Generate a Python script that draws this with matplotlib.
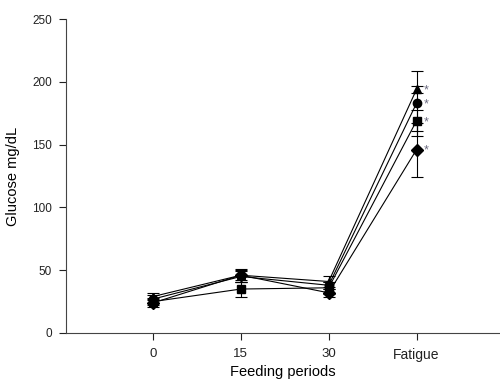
import matplotlib.pyplot as plt

plt.rcParams['font.family'] = ['Liberation Sans', 'DejaVu Sans']

periods = ['0', '15', '30', 'Fatigue']

triangle = [29, 46, 41, 194]
triangle_err = [3, 5, 4, 3]
circle = [27, 45, 38, 183]
circle_err = [3, 4, 3, 26]
square = [25, 35, 36, 169]
square_err = [3, 6, 5, 8.5]
diamond = [24, 46, 32, 146]
diamond_err = [3, 4, 3, 21.5]

series = [
    (triangle, triangle_err, '^'),
    (circle, circle_err, 'o'),
    (square, square_err, 's'),
    (diamond, diamond_err, 'D'),
]

fig = plt.figure(figsize=(5, 3.81), dpi=100)
ax = fig.add_axes([0.132, 0.126, 0.868, 0.824])

x = list(range(len(periods)))
for vals, errs, mk in series:
    ax.errorbar(x, vals, yerr=errs, color='black', marker=mk, markersize=6,
                linewidth=0.8, elinewidth=0.8, capsize=4, capthick=0.8)
    # significance marker at fatigue
    ax.text(3.11, vals[-1] - 1, '*', color='#6a6a80', fontsize=9,
            ha='center', va='center')

ax.set_xlim(-0.99, 3.95)
ax.set_ylim(0, 250)
ax.set_xticks(x)
ax.set_xticklabels(periods)
ax.set_yticks(range(0, 251, 50))
ax.tick_params(direction='out', length=5, width=0.8, labelsize=8.5, colors='#222222')
ax.tick_params(axis='x', pad=6, labelsize=9.5)
ax.tick_params(axis='y', pad=5)
ax.get_xticklabels()[-1].set_fontsize(10)
ax.spines['top'].set_visible(False)
ax.spines['right'].set_visible(False)
for s in ['left', 'bottom']:
    ax.spines[s].set_linewidth(0.8)
    ax.spines[s].set_color('#444444')

ax.set_xlabel('Feeding periods', fontsize=10.5, labelpad=2)
ax.set_ylabel('Glucose mg/dL', fontsize=10.5, labelpad=9)

fig.savefig('out.png', dpi=100)
